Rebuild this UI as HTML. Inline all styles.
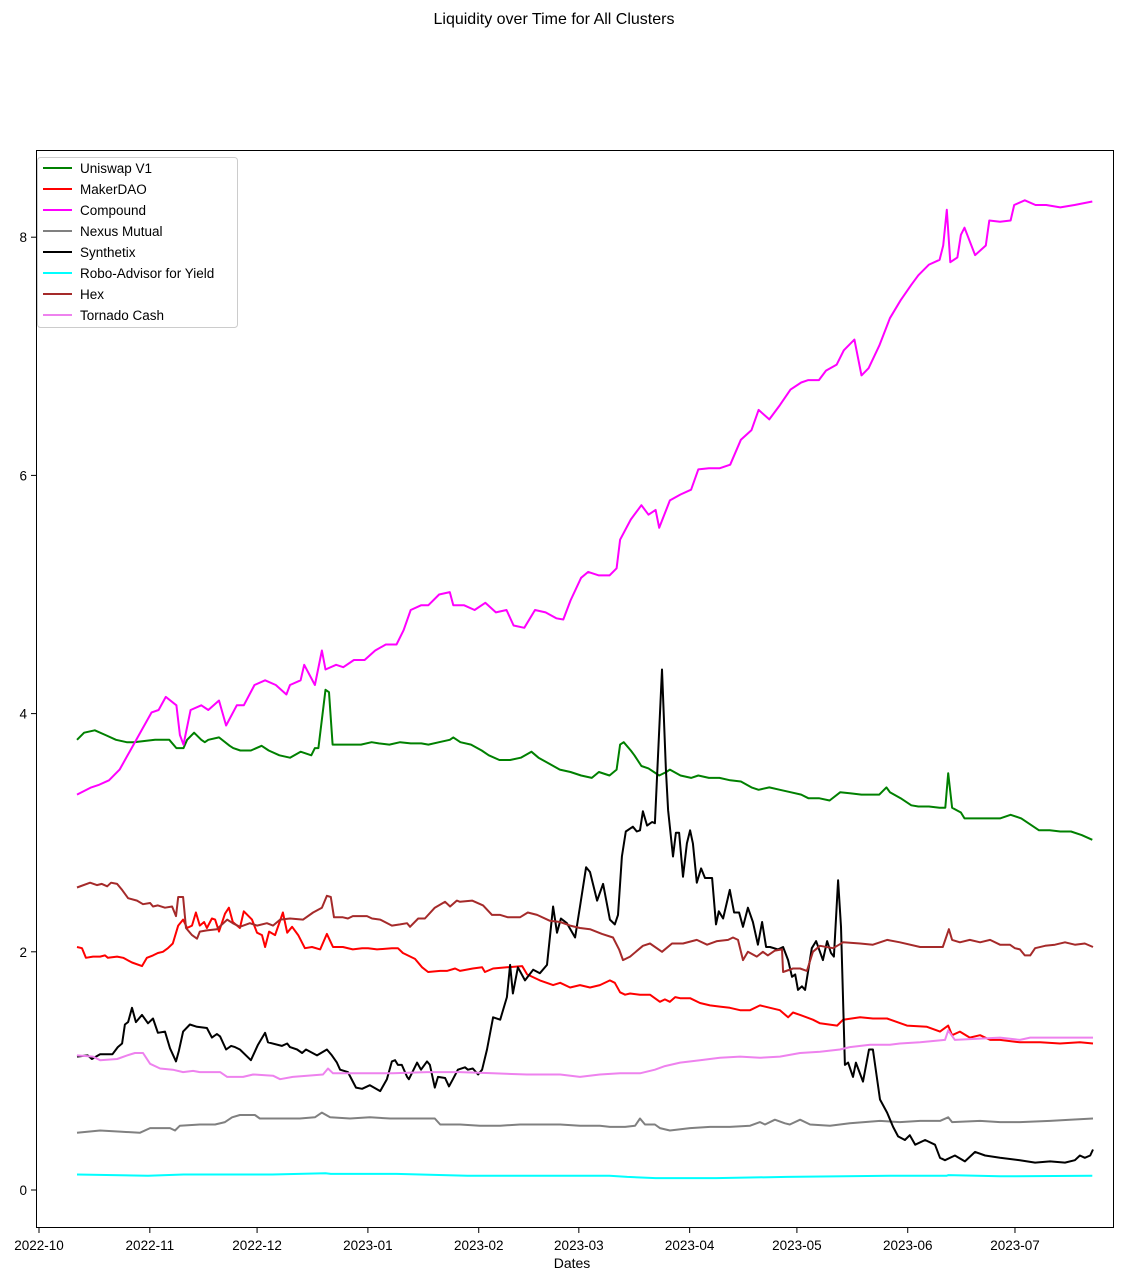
<!DOCTYPE html>
<html><head><meta charset="utf-8"><style>
body{margin:0;background:#fff;}
svg text{font-family:"Liberation Sans","DejaVu Sans",sans-serif;}
</style></head><body>
<svg id="chart" width="1124" height="1281" viewBox="0 0 1124 1281" xmlns="http://www.w3.org/2000/svg">
<rect x="0" y="0" width="1124" height="1281" fill="#fff"/>
<text x="554" y="24" font-size="16" text-anchor="middle">Liquidity over Time for All Clusters</text>
<g id="plot"></g>
<rect x="36.5" y="150.5" width="1077" height="1077" fill="none" stroke="#000" stroke-width="1"/>
<g id="xaxis"></g>
<g id="yaxis"></g>
<text x="572" y="1268" font-size="14" text-anchor="middle">Dates</text>
<g id="legend"></g>
</svg>
<script>
// ---- data (day offsets from 2022-10-11, values) ----
const uniDays=[0,2,5,8,11,14,16,19,22,26,28,30,31,33,35,36,37,40,43,44,46,49,52,54,57,60,63,66,67,68,70,71,72,74,77,80,83,85,88,91,94,97,99,102,105,106,108,111,114,116,119,122,125,128,130,133,136,139,142,145,147,150,152,153,154,156,157,159,161,164,166,167,170,173,175,178,181,184,187,190,192,195,198,201,204,206,209,212,215,218,221,223,226,228,229,232,235,237,240,243,244.6,245.4,246.5,249,250,253,257,260,263,266,268,271,274,277,280,283,286];
const uniVals=[3.78,3.84,3.86,3.82,3.78,3.76,3.76,3.77,3.78,3.78,3.71,3.71,3.78,3.84,3.78,3.76,3.78,3.80,3.73,3.71,3.69,3.69,3.73,3.69,3.65,3.63,3.68,3.65,3.71,3.71,4.20,4.18,3.74,3.74,3.74,3.74,3.76,3.75,3.74,3.76,3.75,3.75,3.74,3.76,3.78,3.80,3.76,3.74,3.69,3.65,3.61,3.61,3.63,3.68,3.63,3.58,3.53,3.51,3.48,3.46,3.51,3.48,3.53,3.74,3.76,3.69,3.65,3.56,3.54,3.48,3.51,3.53,3.48,3.46,3.48,3.46,3.46,3.44,3.43,3.38,3.36,3.38,3.36,3.34,3.32,3.29,3.29,3.27,3.34,3.33,3.32,3.32,3.32,3.38,3.34,3.29,3.23,3.22,3.22,3.21,3.21,3.50,3.21,3.17,3.12,3.12,3.12,3.12,3.15,3.12,3.08,3.02,3.02,3.01,3.01,2.98,2.94];

const makerDays=[0,1.4,2.5,4.5,6.5,7.9,8.7,11.3,13,15.5,18.3,19.7,21.4,22.8,24.2,25.6,27,28.5,29.9,31,32.4,33.5,34.6,35.8,36.6,38,38.9,40,41.7,42.8,43.9,45.9,47,49.3,50.7,52.1,53,54.1,55.8,58,59.2,60.6,62.3,64.2,66.2,68.5,70.4,72.1,74.9,77.7,80.3,82,84.5,88.7,90.4,91.8,95.2,97.2,98.9,102.3,104.2,106.5,107.9,111.5,114.1,114.9,117.2,121.1,125.4,126.8,130.4,134.1,136.1,138.9,141.7,144.5,147.3,150.1,151.5,153,154.4,155.8,158.6,161.4,164.2,165.6,167,168.5,169.9,172.7,175.5,178.3,181.1,183.9,186.8,189.6,192.4,195.2,198,200.3,201.7,203.7,207.3,209.3,214.1,215.8,220.6,224.2,228.2,233.8,239.4,243.1,245.4,246.5,248.7,251.5,254.4,257.2,260,265.6,271.3,276.9,282.5,286.2];
const makerVals=[2.04,2.03,1.95,1.96,1.96,1.97,1.95,1.96,1.95,1.91,1.88,1.95,1.97,1.99,2.00,2.03,2.07,2.22,2.27,2.20,2.22,2.33,2.22,2.25,2.20,2.28,2.27,2.17,2.32,2.37,2.25,2.20,2.34,2.27,2.16,2.14,2.04,2.17,2.14,2.33,2.16,2.21,2.14,2.03,2.04,2.02,2.15,2.04,2.04,2.02,2.03,2.03,2.02,2.03,2.03,1.99,1.94,1.87,1.83,1.84,1.84,1.86,1.84,1.86,1.87,1.83,1.86,1.87,1.88,1.81,1.76,1.72,1.74,1.70,1.72,1.70,1.72,1.76,1.74,1.66,1.64,1.65,1.64,1.64,1.58,1.60,1.58,1.62,1.61,1.61,1.57,1.55,1.54,1.53,1.51,1.51,1.55,1.53,1.51,1.45,1.49,1.47,1.43,1.40,1.38,1.43,1.45,1.44,1.44,1.38,1.37,1.33,1.38,1.30,1.33,1.28,1.30,1.26,1.26,1.24,1.24,1.23,1.24,1.23];

const compDays=[0,4,6,9,12,15,18,21,23,25,28,29,30,32,35,37,40,42,45,47,50,53,56,59,60,63,64,67,69,70,73,75,78,81,84,87,90,92,94,97,99,102,105,106,109,112,115,118,121,123,126,129,132,135,137,139,142,144,147,150,152,153,156,159,161,163,164,167,170,173,175,178,181,184,187,190,192,195,198,201,204,206,209,211,214,216,219,221,223,226,229,232,235,237,240,243,244,245,246,248,249,250,253,256,257,260,263,264,267,270,273,277,281,286];
const compVals=[3.32,3.38,3.40,3.44,3.53,3.69,3.85,4.01,4.03,4.14,4.07,3.82,3.74,4.03,4.07,4.03,4.11,3.90,4.07,4.07,4.24,4.28,4.24,4.16,4.24,4.28,4.41,4.24,4.53,4.37,4.41,4.39,4.45,4.45,4.53,4.58,4.58,4.70,4.87,4.91,4.91,5.00,5.02,4.91,4.91,4.87,4.93,4.85,4.87,4.74,4.72,4.87,4.85,4.80,4.79,4.95,5.14,5.19,5.16,5.16,5.22,5.46,5.63,5.75,5.67,5.71,5.56,5.79,5.84,5.88,6.05,6.06,6.06,6.09,6.30,6.38,6.55,6.47,6.59,6.72,6.78,6.80,6.80,6.88,6.93,7.05,7.14,6.84,6.90,7.09,7.32,7.47,7.60,7.68,7.77,7.81,7.93,8.23,7.79,7.83,8.02,8.08,7.85,7.93,8.14,8.13,8.14,8.27,8.31,8.27,8.27,8.25,8.27,8.30];

const nexusDays=[0,6.5,12.1,17.7,20.6,26.2,27.6,29,34.6,38.9,41.7,43.7,45.9,50.1,51.5,54.4,57.2,62.8,67,69,71.3,76.9,82.5,88.2,91,96.6,100.8,102.3,107.9,113.5,119.2,124.8,130.4,136.1,141.7,147.3,150.1,154.4,157.2,158.6,160,162.8,164.2,167,172.7,178.3,183.9,189.6,192.4,193.8,196.6,199.4,200.8,203.7,206.5,212.1,217.7,226.2,231.8,237.5,243.1,245.4,246.5,254.4,260,265.6,274.1,279.7,286.2];
const nexusVals=[0.48,0.50,0.49,0.48,0.52,0.52,0.50,0.54,0.55,0.55,0.57,0.61,0.63,0.63,0.60,0.60,0.60,0.60,0.61,0.65,0.61,0.60,0.61,0.60,0.60,0.60,0.60,0.55,0.55,0.54,0.54,0.55,0.55,0.55,0.54,0.54,0.53,0.53,0.54,0.60,0.55,0.55,0.52,0.50,0.52,0.53,0.53,0.54,0.57,0.55,0.59,0.56,0.55,0.59,0.55,0.54,0.56,0.58,0.57,0.58,0.58,0.61,0.57,0.58,0.57,0.57,0.58,0.59,0.60];

const synthDays=[0,3,4.2,6.5,10,11.5,12.7,13.5,14.4,15.5,16.6,18.3,20,21.4,22.8,24.8,26.2,27.9,28.7,29.9,31.8,33.8,36.6,38,39.4,40.3,42,43.4,44.5,45.9,49,51,53,53.8,57.7,59.2,60,62,63.4,64.5,67.6,70.4,71.8,73.2,74.1,76.3,78.6,80.3,82.5,85.4,87.3,88.7,89.6,90.4,91.5,93,93.5,95.8,96.9,98.6,99.4,100.8,101.7,103.7,104.8,105.9,107.3,109.3,110.1,111.5,113,114.1,115.5,117.2,119.2,121.1,122,122.8,124.2,126.2,128.5,130.4,132.4,134.1,135.2,136.3,138,140.3,141.7,143.4,144.5,146.5,148.2,150.1,151.5,152.4,153.5,154.6,156.6,157.7,158.6,159.4,160.6,162,162.8,164.8,165.9,166.5,167.9,168.7,169.6,170.7,171.8,172.7,173.5,174.6,175.8,176.9,178.9,180,180.8,182,183.9,185.1,186.5,187.6,189,190.4,191.8,193,194.1,195.2,197.5,198.9,200.3,201.4,202.3,203.1,204.2,205.1,207,208.2,210.1,211.3,212.4,213.2,214.4,215.2,216.3,217.2,218.6,219.4,221.4,223.1,224.2,226.2,228.2,229.9,231.3,233.2,234.6,236.1,238.9,241.7,243.1,244.5,247.3,250.1,253,255.8,260,265.6,269.9,274.1,278.3,281.1,282.5,283.9,285.4,286.2];
const synthVals=[1.12,1.13,1.10,1.14,1.14,1.20,1.23,1.39,1.41,1.53,1.41,1.47,1.40,1.44,1.32,1.33,1.19,1.08,1.17,1.33,1.39,1.37,1.36,1.28,1.31,1.29,1.18,1.21,1.20,1.18,1.09,1.22,1.32,1.24,1.21,1.23,1.20,1.18,1.15,1.18,1.13,1.18,1.13,1.07,1.01,0.99,0.86,0.85,0.88,0.83,0.93,1.08,1.09,1.05,1.05,0.95,0.93,1.07,1.01,1.08,1.05,0.86,0.95,0.94,0.87,0.93,1.01,1.03,1.01,1.02,0.97,1.01,1.18,1.45,1.43,1.62,1.89,1.65,1.87,1.76,1.85,1.82,1.89,2.38,2.16,2.28,2.24,2.12,2.38,2.71,2.67,2.43,2.57,2.27,2.23,2.31,2.80,3.01,3.05,3.01,3.02,3.18,3.06,3.09,3.08,4.37,3.53,3.19,2.80,3.00,3.00,2.63,2.91,3.02,2.91,2.58,2.70,2.62,2.62,2.23,2.34,2.28,2.52,2.33,2.33,2.21,2.37,2.25,2.06,2.25,2.04,2.04,2.02,2.04,1.93,1.79,1.81,1.68,1.71,1.68,2.03,2.09,1.93,2.09,1.99,1.96,2.60,2.21,1.05,1.07,0.95,1.07,0.91,1.18,1.18,0.76,0.65,0.53,0.45,0.42,0.46,0.38,0.42,0.38,0.27,0.25,0.29,0.24,0.32,0.29,0.27,0.25,0.23,0.24,0.23,0.25,0.29,0.27,0.29,0.34];

const roboDays=[0,20,30,55,70,71.5,90,110,130,150,155,163,180,200,230,245,245.5,260,286];
const roboVals=[0.13,0.12,0.13,0.13,0.14,0.135,0.135,0.12,0.12,0.12,0.11,0.10,0.10,0.11,0.12,0.12,0.125,0.115,0.12];

const hexDays=[0,3.7,5.6,7,8.5,9.6,11.3,12.7,14.4,16.9,18.6,20.6,21.4,22.8,24.8,26.8,27.9,28.5,29.9,30.7,32.4,33.8,34.6,36.6,39.4,42.3,43.9,45.9,48.7,50.7,53.5,55.2,57.2,60,63.7,66.5,69,70.4,71.5,72.4,74.9,76.3,77.7,81.7,83.1,85.4,88.7,91,93,93.8,96.1,98,100.8,103.7,105.1,107,107.9,111.3,114.4,116.9,119.2,121.4,124.8,127,129.6,133.2,136.1,138.9,141.7,144.5,147.9,151,152.7,153.8,155.8,159.4,161.4,164.8,167.6,170.7,174.6,177.5,180.3,183.4,184.8,186.2,187.6,189,191.5,193.2,194.6,196.6,198.6,198.9,201.7,203.7,205.6,207.3,209.3,213,215.8,220.6,224.2,228.2,231.8,237.5,243.9,245.6,246.5,248.7,251.5,254.4,257.2,260,262.8,264.2,265.6,267,268.5,269.9,272.7,275.5,278.3,281.1,283.9,286.2];
const hexVals=[2.54,2.58,2.56,2.57,2.55,2.58,2.57,2.52,2.45,2.43,2.40,2.41,2.38,2.39,2.37,2.38,2.30,2.46,2.46,2.20,2.14,2.11,2.17,2.18,2.19,2.27,2.24,2.21,2.24,2.22,2.24,2.22,2.27,2.28,2.27,2.33,2.37,2.47,2.46,2.29,2.29,2.28,2.30,2.30,2.28,2.27,2.22,2.23,2.24,2.21,2.28,2.28,2.37,2.42,2.38,2.43,2.42,2.43,2.39,2.31,2.31,2.29,2.29,2.33,2.31,2.26,2.25,2.22,2.20,2.19,2.15,2.12,2.02,1.93,1.96,2.05,2.07,2.00,2.07,2.07,2.10,2.06,2.09,2.10,2.12,2.10,1.93,2.00,1.96,2.00,1.97,2.01,2.02,1.83,1.86,1.86,1.84,2.00,2.05,2.03,2.08,2.07,2.06,2.10,2.08,2.04,2.04,2.19,2.10,2.08,2.10,2.08,2.10,2.06,2.06,2.03,2.02,1.97,1.97,2.03,2.05,2.06,2.08,2.06,2.07,2.04];

const tornDays=[0,4.5,6.5,11.3,14.1,16.3,18.6,20.6,23.4,27,29.9,32.7,34.6,40.3,42.3,46.8,49.6,55.2,57.2,60.8,69.3,70.7,72.1,79.7,89,98.6,107.9,117.2,126.8,136.1,141.7,147.3,153,158.6,162.8,165.6,169.9,175.5,181.1,186.8,192.4,198,203.7,209.3,214.9,217.7,223.4,229,231.8,237.5,244.5,245.4,247.3,260,265.6,268.5,286.2];
const tornVals=[1.13,1.12,1.09,1.10,1.13,1.15,1.15,1.06,1.02,1.01,0.99,1.00,0.99,0.99,0.95,0.95,0.97,0.96,0.93,0.95,0.97,1.02,0.98,0.98,0.98,0.99,0.99,0.98,0.97,0.97,0.95,0.97,0.98,0.98,1.01,1.04,1.07,1.09,1.11,1.12,1.11,1.12,1.15,1.16,1.18,1.20,1.22,1.22,1.23,1.24,1.26,1.34,1.26,1.28,1.26,1.28,1.28];

const seriesNames=["Uniswap V1","MakerDAO","Compound","Nexus Mutual","Synthetix","Robo-Advisor for Yield","Hex","Tornado Cash"];
const seriesColors=["#008000","#ff0000","#ff00ff","#808080","#000000","#00ffff","#a52a2a","#ee82ee"];
const seriesDays=[uniDays,makerDays,compDays,nexusDays,synthDays,roboDays,hexDays,tornDays];
const seriesVals=[uniVals,makerVals,compVals,nexusVals,synthVals,roboVals,hexVals,tornVals];

const yTicks=[0,2,4,6,8];
const xTickLabels=["2022-10","2022-11","2022-12","2023-01","2023-02","2023-03","2023-04","2023-05","2023-06","2023-07"];
const xTickDays=[0,31,61,92,123,151,182,212,243,273]; // days from 2022-10-01

// ---- scales ----
function xs(d){return 77+d*3.55;}
function xTick(dm){return 39+dm*3.575;}
function ys(v){return 1190-v*119.1;}

const NS="http://www.w3.org/2000/svg";
const plot=document.getElementById('plot');
const slugs=["uniswap-v1","makerdao","compound","nexus-mutual","synthetix","robo-advisor","hex","tornado-cash"];
for(let s=0;s<seriesNames.length;s++){
  const p=document.createElementNS(NS,'path');
  let d='';
  for(let i=0;i<seriesDays[s].length;i++){d+=(i?'L':'M')+xs(seriesDays[s][i]).toFixed(1)+' '+ys(seriesVals[s][i]).toFixed(1);}
  p.setAttribute('d',d);p.setAttribute('fill','none');p.setAttribute('stroke',seriesColors[s]);
  p.setAttribute('stroke-width','2');p.setAttribute('stroke-linejoin','round');
  
  
  plot.appendChild(p);
}
const xa=document.getElementById('xaxis');
for(let i=0;i<xTickLabels.length;i++){
  const x=xTick(xTickDays[i]);
  const l=document.createElementNS(NS,'line');
  l.setAttribute('x1',x);l.setAttribute('x2',x);l.setAttribute('y1',1228);l.setAttribute('y2',1233);l.setAttribute('stroke','#000');
  
  
  xa.appendChild(l);
  const t=document.createElementNS(NS,'text');
  t.setAttribute('x',x);t.setAttribute('y',1250);t.setAttribute('font-size','13.5');t.setAttribute('text-anchor','middle');
  t.textContent=xTickLabels[i];
  
  
  xa.appendChild(t);
}
const ya=document.getElementById('yaxis');
for(const v of yTicks){
  const y=ys(v);
  const l=document.createElementNS(NS,'line');
  l.setAttribute('x1',31);l.setAttribute('x2',36);l.setAttribute('y1',y);l.setAttribute('y2',y);l.setAttribute('stroke','#000');
  
  
  ya.appendChild(l);
  const t=document.createElementNS(NS,'text');
  t.setAttribute('x',27);t.setAttribute('y',y+5);t.setAttribute('font-size','13.5');t.setAttribute('text-anchor','end');
  t.textContent=v;
  
  
  ya.appendChild(t);
}
const lg=document.getElementById('legend');
const box=document.createElementNS(NS,'rect');
box.setAttribute('x',37.5);box.setAttribute('y',157.5);box.setAttribute('width',200);box.setAttribute('height',170);box.setAttribute('rx',3);
box.setAttribute('fill','#fff');box.setAttribute('fill-opacity','0.8');box.setAttribute('stroke','#ccc');


lg.appendChild(box);
for(let s=0;s<seriesNames.length;s++){
  const y=168+s*21;
  const l=document.createElementNS(NS,'line');
  l.setAttribute('x1',43);l.setAttribute('x2',72);l.setAttribute('y1',y);l.setAttribute('y2',y);
  l.setAttribute('stroke',seriesColors[s]);l.setAttribute('stroke-width','2');
  
  
  lg.appendChild(l);
  const t=document.createElementNS(NS,'text');
  t.setAttribute('x',80);t.setAttribute('y',y+5);t.setAttribute('font-size','13.5');
  t.textContent=seriesNames[s];
  
  
  lg.appendChild(t);
}
</script>
</body></html>
